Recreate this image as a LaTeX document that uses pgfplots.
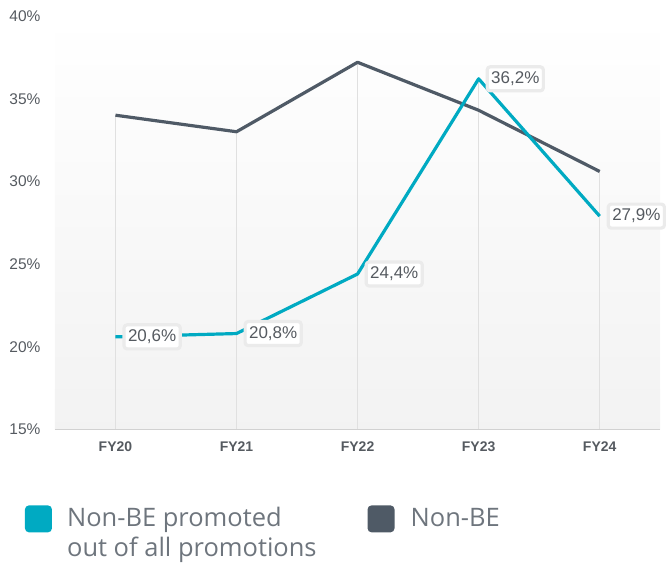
\documentclass[border=0pt]{standalone}
\usepackage{pgfplots}
\pgfplotsset{compat=1.18}
\usepackage{fontspec}
\setmainfont{Liberation Sans}
\newfontfamily\legfont{Open Sans}
\definecolor{teal1}{HTML}{00AAC2}
\definecolor{dark1}{HTML}{4F5A66}
\definecolor{txt}{HTML}{555A60}
\definecolor{legtxt}{HTML}{6E757D}
\begin{document}
\begin{tikzpicture}
\begin{axis}[
  name=ax,
  scale only axis, width=606pt, height=414pt,
  xmin=-0.5, xmax=4.5, ymin=15, ymax=40,
  xtick={0,1,2,3,4}, xticklabels={FY20,FY21,FY22,FY23,FY24},
  ytick={15,20,25,30,35,40},
  yticklabel={\pgfmathprintnumber{\tick}\%},
  /pgf/number format/assume math mode=true,
  major tick length=0pt,
  axis y line*=left,
  y axis line style={draw=none},
  axis x line*=bottom,
  x axis line style={draw=black!18, line width=0.8pt, -},
  ticklabel style={color=txt},
  xticklabel style={font=\fontsize{14}{15}\selectfont\bfseries, yshift=-9pt},
  yticklabel style={font=\fontsize{15.5}{17}\selectfont, xshift=-11pt},
  axis background/.style={shade, top color=white, bottom color=black!5},
  clip=false,
]
\addplot[ycomb, draw=black!12, line width=0.8pt, mark=none] coordinates {(0,34.0) (1,33.0) (2,37.2) (3,36.2) (4,30.6)};
\addplot[dark1, line width=3.2pt, line join=round, mark=none] coordinates {(0,34.0) (1,33.0) (2,37.2) (3,34.3) (4,30.6)};
\addplot[teal1, line width=3.2pt, line join=round, mark=none,
  nodes near coords={\pgfmathprintnumber[fixed, fixed zerofill, precision=1, use comma]{\pgfplotspointmeta}\%},
  every node near coord/.style={anchor=west, xshift=7pt, fill=white, draw=black!8, rounded corners=3pt,
     inner xsep=4pt, inner ysep=5pt, text=txt, font=\fontsize{17}{19}\selectfont}
] coordinates {(0,20.6) (1,20.8) (2,24.4) (3,36.2) (4,27.9)};
\end{axis}
\fill[teal1, rounded corners=4pt] ([xshift=-30pt, yshift=-76pt]ax.south west) rectangle ([xshift=-3pt, yshift=-103pt]ax.south west);
\fill[dark1, rounded corners=4pt] ([xshift=313pt, yshift=-76pt]ax.south west) rectangle ([xshift=340pt, yshift=-103pt]ax.south west);
\node[anchor=base west, inner sep=0pt, text=legtxt, font=\legfont\fontsize{25.5}{30}\selectfont] at ([xshift=12pt, yshift=-97pt]ax.south west) {Non-BE promoted};
\node[anchor=base west, inner sep=0pt, text=legtxt, font=\legfont\fontsize{25.5}{30}\selectfont] at ([xshift=12pt, yshift=-127pt]ax.south west) {out of all promotions};
\node[anchor=base west, inner sep=0pt, text=legtxt, font=\legfont\fontsize{25.5}{30}\selectfont] at ([xshift=356pt, yshift=-97pt]ax.south west) {Non-BE};
\path ([xshift=-55pt, yshift=16pt]ax.north west) ([xshift=5pt, yshift=-136pt]ax.south east);
\end{tikzpicture}
\end{document}
